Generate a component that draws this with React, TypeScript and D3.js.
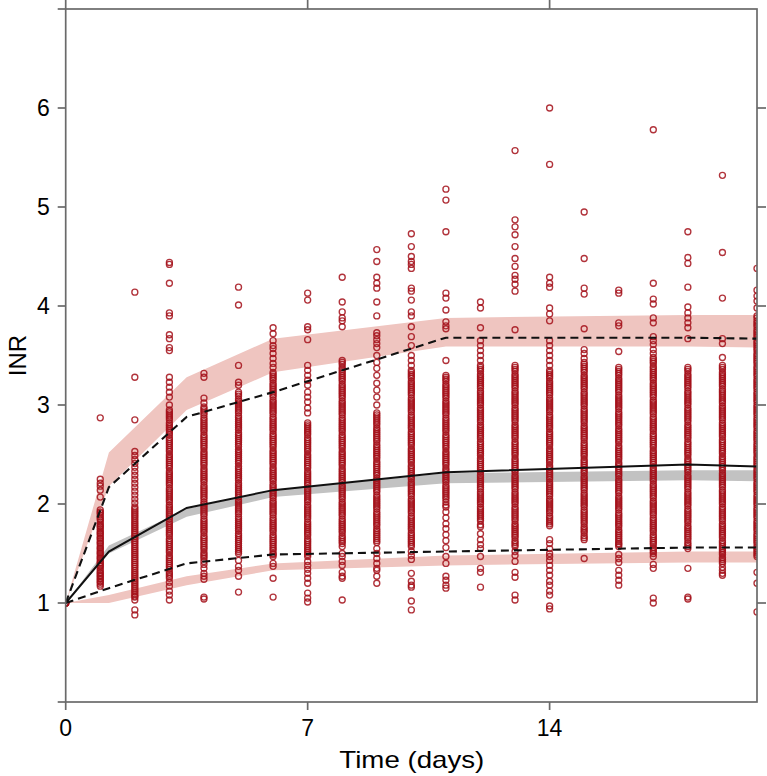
import React from "react";
import * as d3 from "d3";

const W = 767;
const H = 776;
const PLOT = { left: 65.7, right: 757, top: 9, bottom: 702 };

const xTickValues = [0, 7, 14];
const yTickValues = [0, 1, 2, 3, 4, 5, 6, 7];
const yLabelValues = [1, 2, 3, 4, 5, 6];
const rightTickValues = [1, 2, 3, 4, 5, 6];

// Observed INR by day (outer / sparse readings)
const obsDays = [0, 1, 2, 3, 4, 5, 6, 7, 8, 9, 10, 11, 12, 13, 14, 15, 16, 17, 18, 19, 20];
const obsDay00 = [1, 1, 1, 1, 1];
const obsDay01 = [2.87, 2.25, 2.21, 2.18, 2.14, 2.07, 1.94, 1.91, 1.87, 1.84, 1.8, 1.77, 1.73, 1.7, 1.66, 1.63, 1.6, 1.56, 1.53, 1.5, 1.46, 1.43, 1.4, 1.37, 1.33, 1.3, 1.27, 1.24, 1.21, 1.17];
const obsDay02 = [4.14, 3.28, 2.85, 2.53, 2.49, 2.45, 2.41, 2.37, 2.33, 2.29, 2.25, 2.21, 2.17, 2.13, 2.09, 2.05, 2.01, 1.97, 1.93, 1.89, 1.85, 1.81, 1.77, 1.73, 1.69, 1.65, 1.61, 1.57, 1.53, 1.49, 1.45, 1.41, 1.37, 1.33, 1.29, 1.25, 1.21, 1.17, 1.13, 1.09, 1.06, 1.03, 0.93, 0.88];
const obsDay03 = [4.44, 4.42, 4.23, 3.93, 3.9, 3.71, 3.67, 3.58, 3.55, 3.28, 3.23, 3.18, 3.13, 3.08, 3.0, 2.95, 2.91, 2.87, 2.82, 2.78, 2.74, 2.7, 2.65, 2.61, 2.57, 2.53, 2.48, 2.44, 2.4, 2.36, 2.31, 2.27, 2.23, 2.19, 2.14, 2.1, 2.06, 2.02, 1.97, 1.93, 1.89, 1.85, 1.8, 1.76, 1.72, 1.68, 1.63, 1.59, 1.55, 1.51, 1.46, 1.42, 1.38, 1.34, 1.29, 1.25, 1.21, 1.17, 1.12, 1.08, 1.03];
const obsDay04 = [3.32, 3.28, 3.07, 3.02, 2.98, 2.94, 2.9, 2.85, 2.81, 2.77, 2.73, 2.68, 2.64, 2.6, 2.56, 2.51, 2.47, 2.43, 2.39, 2.34, 2.3, 2.26, 2.22, 2.17, 2.13, 2.09, 2.05, 2.0, 1.96, 1.92, 1.88, 1.83, 1.79, 1.75, 1.71, 1.66, 1.62, 1.58, 1.54, 1.49, 1.45, 1.42, 1.39, 1.35, 1.3, 1.27, 1.24, 1.06, 1.04];
const obsDay05 = [4.19, 4.01, 3.4, 3.23, 3.2, 3.13, 3.09, 3.04, 3.0, 2.96, 2.92, 2.87, 2.83, 2.79, 2.75, 2.7, 2.66, 2.62, 2.58, 2.53, 2.49, 2.45, 2.41, 2.36, 2.32, 2.28, 2.24, 2.19, 2.15, 2.11, 2.07, 2.02, 1.98, 1.94, 1.9, 1.85, 1.81, 1.77, 1.73, 1.68, 1.64, 1.6, 1.56, 1.52, 1.5, 1.43, 1.37, 1.33, 1.27, 1.11];
const obsDay06 = [3.78, 3.72, 3.65, 3.6, 3.57, 3.52, 3.47, 3.42, 3.38, 3.33, 3.29, 3.25, 3.2, 3.16, 3.12, 3.08, 3.03, 2.99, 2.95, 2.91, 2.86, 2.82, 2.78, 2.74, 2.69, 2.65, 2.61, 2.57, 2.52, 2.48, 2.44, 2.4, 2.35, 2.31, 2.27, 2.23, 2.18, 2.14, 2.1, 2.06, 2.01, 1.97, 1.93, 1.89, 1.84, 1.8, 1.76, 1.72, 1.67, 1.63, 1.59, 1.55, 1.5, 1.47, 1.4, 1.37, 1.25, 1.06];
const obsDay07 = [4.13, 4.06, 3.79, 3.76, 3.66, 3.4, 3.35, 3.3, 3.25, 3.2, 3.13, 3.08, 3.03, 2.97, 2.92, 2.82, 2.78, 2.74, 2.7, 2.65, 2.61, 2.57, 2.53, 2.48, 2.44, 2.4, 2.36, 2.31, 2.27, 2.23, 2.19, 2.14, 2.1, 2.06, 2.02, 1.97, 1.93, 1.89, 1.85, 1.8, 1.76, 1.72, 1.68, 1.63, 1.59, 1.55, 1.51, 1.47, 1.42, 1.38, 1.34, 1.3, 1.25, 1.2, 1.1, 1.05, 1.01];
const obsDay08 = [4.29, 4.04, 3.94, 3.88, 3.85, 3.79, 3.45, 3.41, 3.36, 3.32, 3.28, 3.24, 3.19, 3.15, 3.11, 3.07, 3.02, 2.98, 2.94, 2.9, 2.85, 2.81, 2.77, 2.73, 2.68, 2.64, 2.6, 2.56, 2.51, 2.47, 2.43, 2.39, 2.34, 2.3, 2.26, 2.22, 2.17, 2.13, 2.09, 2.05, 2.0, 1.96, 1.92, 1.88, 1.83, 1.79, 1.75, 1.71, 1.66, 1.62, 1.57, 1.5, 1.47, 1.42, 1.38, 1.31, 1.27, 1.25, 1.03];
const obsDay09 = [4.57, 4.45, 4.29, 4.23, 4.18, 4.04, 3.9, 3.73, 3.7, 3.66, 3.62, 3.58, 3.5, 3.43, 3.37, 3.3, 3.22, 3.15, 3.08, 3.0, 2.92, 2.88, 2.84, 2.8, 2.75, 2.71, 2.67, 2.63, 2.58, 2.54, 2.5, 2.46, 2.41, 2.37, 2.33, 2.29, 2.24, 2.2, 2.16, 2.12, 2.07, 2.03, 1.99, 1.95, 1.9, 1.86, 1.82, 1.78, 1.73, 1.69, 1.65, 1.61, 1.55, 1.5, 1.45, 1.4, 1.35, 1.33, 1.27, 1.2];
const obsDay10 = [4.73, 4.6, 4.5, 4.45, 4.42, 4.38, 4.18, 4.15, 4.06, 3.94, 3.9, 3.79, 3.69, 3.6, 3.5, 3.45, 3.4, 3.35, 3.31, 3.27, 3.22, 3.18, 3.14, 3.1, 3.05, 3.01, 2.97, 2.93, 2.88, 2.84, 2.8, 2.76, 2.71, 2.67, 2.63, 2.59, 2.54, 2.5, 2.46, 2.42, 2.37, 2.33, 2.29, 2.25, 2.2, 2.16, 2.12, 2.08, 2.03, 1.99, 1.95, 1.91, 1.86, 1.82, 1.78, 1.74, 1.69, 1.65, 1.61, 1.57, 1.52, 1.48, 1.44, 1.3, 1.22, 1.18, 1.16, 1.02, 0.93];
const obsDay11 = [5.18, 5.07, 4.75, 4.13, 4.08, 3.96, 3.84, 3.8, 3.77, 3.45, 3.3, 3.26, 3.21, 3.17, 3.13, 3.09, 3.04, 3.0, 2.96, 2.92, 2.87, 2.83, 2.79, 2.75, 2.7, 2.66, 2.62, 2.58, 2.53, 2.49, 2.45, 2.41, 2.36, 2.32, 2.28, 2.24, 2.19, 2.15, 2.11, 2.07, 2.02, 1.97, 1.92, 1.86, 1.8, 1.75, 1.69, 1.63, 1.56, 1.47, 1.4, 1.27, 1.23, 1.18, 1.15];
const obsDay12 = [4.04, 3.98, 3.78, 3.65, 3.6, 3.55, 3.5, 3.45, 3.4, 3.36, 3.31, 3.27, 3.23, 3.19, 3.14, 3.1, 3.06, 3.02, 2.97, 2.93, 2.89, 2.85, 2.8, 2.76, 2.72, 2.68, 2.63, 2.59, 2.55, 2.51, 2.46, 2.42, 2.38, 2.34, 2.29, 2.25, 2.21, 2.17, 2.12, 2.08, 2.04, 2.0, 1.95, 1.91, 1.87, 1.83, 1.77, 1.7, 1.64, 1.59, 1.55, 1.47, 1.35, 1.31, 1.16];
const obsDay13 = [5.57, 4.87, 4.8, 4.72, 4.6, 4.48, 4.4, 4.31, 4.27, 4.22, 4.15, 3.76, 3.4, 3.36, 3.31, 3.27, 3.23, 3.19, 3.14, 3.1, 3.06, 3.02, 2.97, 2.93, 2.89, 2.85, 2.8, 2.76, 2.72, 2.68, 2.63, 2.59, 2.55, 2.51, 2.46, 2.42, 2.38, 2.34, 2.29, 2.25, 2.21, 2.17, 2.12, 2.08, 2.04, 2.0, 1.95, 1.91, 1.87, 1.83, 1.78, 1.74, 1.7, 1.66, 1.61, 1.57, 1.52, 1.48, 1.42, 1.31, 1.26, 1.08, 1.03];
const obsDay14 = [6.0, 5.43, 4.29, 4.23, 4.19, 3.98, 3.92, 3.85, 3.65, 3.6, 3.55, 3.5, 3.45, 3.4, 3.35, 3.31, 3.27, 3.22, 3.18, 3.14, 3.1, 3.05, 3.01, 2.97, 2.93, 2.88, 2.84, 2.8, 2.76, 2.71, 2.67, 2.63, 2.59, 2.54, 2.5, 2.46, 2.42, 2.37, 2.33, 2.29, 2.25, 2.2, 2.16, 2.12, 2.08, 2.03, 1.99, 1.95, 1.91, 1.86, 1.82, 1.78, 1.64, 1.6, 1.55, 1.5, 1.47, 1.43, 1.38, 1.33, 1.28, 1.22, 1.18, 1.12, 1.08, 0.97, 0.94];
const obsDay15 = [4.95, 4.48, 4.18, 4.12, 3.77, 3.56, 3.52, 3.47, 3.43, 3.39, 3.35, 3.3, 3.26, 3.22, 3.18, 3.13, 3.09, 3.05, 3.01, 2.96, 2.92, 2.88, 2.84, 2.79, 2.75, 2.71, 2.67, 2.62, 2.58, 2.54, 2.5, 2.45, 2.41, 2.37, 2.33, 2.28, 2.24, 2.2, 2.16, 2.11, 2.07, 2.03, 1.99, 1.94, 1.9, 1.86, 1.82, 1.77, 1.73, 1.68, 1.64, 1.45];
const obsDay16 = [4.16, 4.13, 3.83, 3.8, 3.54, 3.38, 3.34, 3.3, 3.25, 3.21, 3.17, 3.13, 3.08, 3.04, 3.0, 2.96, 2.91, 2.87, 2.83, 2.79, 2.74, 2.7, 2.66, 2.62, 2.57, 2.53, 2.49, 2.45, 2.4, 2.36, 2.32, 2.28, 2.23, 2.19, 2.15, 2.11, 2.06, 2.02, 1.98, 1.94, 1.89, 1.85, 1.81, 1.77, 1.72, 1.68, 1.64, 1.6, 1.57, 1.49, 1.45, 1.41, 1.33, 1.28, 1.23, 1.18];
const obsDay17 = [5.78, 4.23, 4.07, 4.02, 3.88, 3.83, 3.69, 3.65, 3.61, 3.56, 3.52, 3.48, 3.44, 3.39, 3.35, 3.31, 3.27, 3.22, 3.18, 3.14, 3.1, 3.05, 3.01, 2.97, 2.93, 2.88, 2.84, 2.8, 2.76, 2.71, 2.67, 2.63, 2.59, 2.54, 2.5, 2.46, 2.42, 2.37, 2.33, 2.29, 2.25, 2.2, 2.16, 2.12, 2.08, 2.03, 1.99, 1.95, 1.91, 1.86, 1.82, 1.78, 1.74, 1.69, 1.65, 1.61, 1.56, 1.52, 1.47, 1.39, 1.35, 1.05, 1.0];
const obsDay18 = [4.75, 4.49, 4.43, 4.19, 3.99, 3.93, 3.88, 3.83, 3.78, 3.67, 3.38, 3.34, 3.29, 3.25, 3.21, 3.17, 3.12, 3.08, 3.04, 3.0, 2.95, 2.91, 2.87, 2.83, 2.78, 2.74, 2.7, 2.66, 2.61, 2.57, 2.53, 2.49, 2.44, 2.4, 2.36, 2.32, 2.27, 2.23, 2.19, 2.15, 2.1, 2.06, 2.02, 1.98, 1.93, 1.89, 1.85, 1.81, 1.76, 1.72, 1.68, 1.64, 1.59, 1.55, 1.35, 1.06, 1.04];
const obsDay19 = [5.32, 4.54, 4.08, 3.67, 3.62, 3.48, 3.4, 3.36, 3.31, 3.27, 3.23, 3.19, 3.14, 3.1, 3.06, 3.02, 2.97, 2.93, 2.89, 2.85, 2.8, 2.76, 2.72, 2.68, 2.63, 2.59, 2.55, 2.51, 2.46, 2.42, 2.38, 2.34, 2.29, 2.25, 2.21, 2.17, 2.12, 2.08, 2.04, 2.0, 1.95, 1.91, 1.87, 1.83, 1.78, 1.74, 1.7, 1.66, 1.61, 1.57, 1.53, 1.49, 1.44, 1.4, 1.36, 1.33, 1.3, 1.28];
const obsDay20 = [4.38, 4.16, 4.1, 4.05, 3.98, 3.9, 3.85, 3.81, 3.76, 3.72, 3.68, 3.63, 3.59, 3.55, 3.5, 3.46, 3.42, 3.37, 3.33, 3.29, 3.24, 3.2, 3.16, 3.11, 3.07, 3.03, 2.98, 2.94, 2.9, 2.85, 2.81, 2.77, 2.72, 2.68, 2.64, 2.59, 2.55, 2.51, 2.46, 2.42, 2.38, 2.33, 2.29, 2.25, 2.2, 2.16, 2.12, 2.07, 2.03, 1.99, 1.94, 1.9, 1.86, 1.81, 1.77, 1.73, 1.68, 1.64, 1.6, 1.55, 1.51, 1.47, 1.31, 1.2, 0.91];

// Additional readings inside the dense (solid-looking) part of each column
const denseDay01 = [1.92, 1.89, 1.85, 1.82, 1.78, 1.75, 1.71, 1.68, 1.65, 1.61, 1.58, 1.55, 1.51, 1.48, 1.45, 1.41, 1.38, 1.35, 1.31, 1.28, 1.25, 1.22, 1.19];
const denseDay02 = [1.95, 1.91, 1.87, 1.83, 1.79, 1.75, 1.71, 1.67, 1.63, 1.59, 1.55, 1.51, 1.47, 1.43, 1.39, 1.35, 1.31, 1.27, 1.23, 1.19, 1.15, 1.11, 1.07];
const denseDay03 = [2.93, 2.89, 2.85, 2.8, 2.76, 2.72, 2.67, 2.63, 2.59, 2.55, 2.5, 2.46, 2.42, 2.38, 2.33, 2.29, 2.25, 2.21, 2.16, 2.12, 2.08, 2.04, 1.99, 1.95, 1.91, 1.87, 1.82, 1.78, 1.74, 1.7, 1.65, 1.61, 1.57, 1.53, 1.48, 1.44, 1.4, 1.36, 1.31, 1.27];
const denseDay04 = [2.96, 2.92, 2.87, 2.83, 2.79, 2.75, 2.7, 2.66, 2.62, 2.58, 2.53, 2.49, 2.45, 2.41, 2.36, 2.32, 2.28, 2.24, 2.19, 2.15, 2.11, 2.07, 2.02, 1.98, 1.94, 1.9, 1.85, 1.81, 1.77, 1.73, 1.68, 1.64, 1.6, 1.56, 1.51, 1.47];
const denseDay05 = [3.11, 3.06, 3.02, 2.98, 2.94, 2.89, 2.85, 2.81, 2.77, 2.72, 2.68, 2.64, 2.6, 2.55, 2.51, 2.47, 2.43, 2.38, 2.34, 2.3, 2.26, 2.21, 2.17, 2.13, 2.09, 2.04, 2.0, 1.96, 1.92, 1.87, 1.83, 1.79, 1.75, 1.7, 1.66, 1.62, 1.58, 1.54];
const denseDay06 = [3.31, 3.27, 3.22, 3.18, 3.14, 3.1, 3.05, 3.01, 2.97, 2.93, 2.88, 2.84, 2.8, 2.76, 2.71, 2.67, 2.63, 2.59, 2.54, 2.5, 2.46, 2.42, 2.37, 2.33, 2.29, 2.25, 2.2, 2.16, 2.12, 2.08, 2.03, 1.99, 1.95, 1.91, 1.86, 1.82, 1.78, 1.74, 1.69, 1.65, 1.61, 1.57, 1.53, 1.49];
const denseDay07 = [2.8, 2.76, 2.72, 2.67, 2.63, 2.59, 2.55, 2.5, 2.46, 2.42, 2.38, 2.33, 2.29, 2.25, 2.21, 2.16, 2.12, 2.08, 2.04, 1.99, 1.95, 1.91, 1.87, 1.82, 1.78, 1.74, 1.7, 1.65, 1.61, 1.57, 1.53, 1.49];
const denseDay08 = [3.43, 3.38, 3.34, 3.3, 3.26, 3.21, 3.17, 3.13, 3.09, 3.04, 3.0, 2.96, 2.92, 2.87, 2.83, 2.79, 2.75, 2.7, 2.66, 2.62, 2.58, 2.53, 2.49, 2.45, 2.41, 2.36, 2.32, 2.28, 2.24, 2.19, 2.15, 2.11, 2.07, 2.02, 1.98, 1.94, 1.9, 1.85, 1.81, 1.77, 1.73, 1.68, 1.64, 1.6];
const denseDay09 = [2.9, 2.86, 2.82, 2.77, 2.73, 2.69, 2.65, 2.6, 2.56, 2.52, 2.48, 2.43, 2.39, 2.35, 2.31, 2.26, 2.22, 2.18, 2.14, 2.09, 2.05, 2.01, 1.97, 1.92, 1.88, 1.84, 1.8, 1.75, 1.71, 1.67, 1.63];
const denseDay10 = [3.33, 3.29, 3.24, 3.2, 3.16, 3.12, 3.07, 3.03, 2.99, 2.95, 2.9, 2.86, 2.82, 2.78, 2.73, 2.69, 2.65, 2.61, 2.56, 2.52, 2.48, 2.44, 2.39, 2.35, 2.31, 2.27, 2.22, 2.18, 2.14, 2.1, 2.05, 2.01, 1.97, 1.93, 1.88, 1.84, 1.8, 1.76, 1.71, 1.67, 1.63, 1.59];
const denseDay11 = [3.28, 3.24, 3.19, 3.15, 3.11, 3.07, 3.02, 2.98, 2.94, 2.9, 2.85, 2.81, 2.77, 2.73, 2.68, 2.64, 2.6, 2.56, 2.51, 2.47, 2.43, 2.39, 2.34, 2.3, 2.26, 2.22, 2.17, 2.13, 2.09, 2.05, 1.99];
const denseDay12 = [3.38, 3.34, 3.29, 3.25, 3.21, 3.17, 3.12, 3.08, 3.04, 3.0, 2.95, 2.91, 2.87, 2.83, 2.78, 2.74, 2.7, 2.66, 2.61, 2.57, 2.53, 2.49, 2.44, 2.4, 2.36, 2.32, 2.27, 2.23, 2.19, 2.15, 2.1, 2.06, 2.02, 1.97, 1.93, 1.89, 1.85, 1.79];
const denseDay13 = [3.38, 3.34, 3.29, 3.25, 3.21, 3.17, 3.12, 3.08, 3.04, 3.0, 2.95, 2.91, 2.87, 2.83, 2.78, 2.74, 2.7, 2.66, 2.61, 2.57, 2.53, 2.49, 2.44, 2.4, 2.36, 2.32, 2.27, 2.23, 2.19, 2.15, 2.1, 2.06, 2.02, 1.97, 1.93, 1.89, 1.85, 1.8, 1.76, 1.72, 1.68, 1.63, 1.59];
const denseDay14 = [3.33, 3.29, 3.24, 3.2, 3.16, 3.12, 3.07, 3.03, 2.99, 2.95, 2.9, 2.86, 2.82, 2.78, 2.73, 2.69, 2.65, 2.61, 2.56, 2.52, 2.48, 2.44, 2.39, 2.35, 2.31, 2.27, 2.22, 2.18, 2.14, 2.1, 2.05, 2.01, 1.97, 1.93, 1.88, 1.84, 1.8];
const denseDay15 = [3.41, 3.37, 3.33, 3.28, 3.24, 3.2, 3.16, 3.11, 3.07, 3.03, 2.99, 2.94, 2.9, 2.86, 2.82, 2.77, 2.73, 2.69, 2.65, 2.6, 2.56, 2.52, 2.48, 2.43, 2.39, 2.35, 2.31, 2.26, 2.22, 2.18, 2.14, 2.09, 2.05, 2.01, 1.97, 1.92, 1.88, 1.84, 1.8, 1.75, 1.71, 1.66];
const denseDay16 = [3.36, 3.32, 3.27, 3.23, 3.19, 3.15, 3.1, 3.06, 3.02, 2.98, 2.93, 2.89, 2.85, 2.81, 2.76, 2.72, 2.68, 2.64, 2.59, 2.55, 2.51, 2.47, 2.42, 2.38, 2.34, 2.3, 2.25, 2.21, 2.17, 2.13, 2.08, 2.04, 2.0, 1.96, 1.91, 1.87, 1.83, 1.79, 1.74, 1.7, 1.66, 1.62, 1.59];
const denseDay17 = [3.46, 3.42, 3.37, 3.33, 3.29, 3.25, 3.2, 3.16, 3.12, 3.08, 3.03, 2.99, 2.95, 2.91, 2.86, 2.82, 2.78, 2.74, 2.69, 2.65, 2.61, 2.57, 2.52, 2.48, 2.44, 2.4, 2.35, 2.31, 2.27, 2.23, 2.18, 2.14, 2.1, 2.06, 2.01, 1.97, 1.93, 1.89, 1.84, 1.8, 1.76, 1.72, 1.67, 1.63, 1.59, 1.54, 1.5];
const denseDay18 = [3.36, 3.31, 3.27, 3.23, 3.19, 3.14, 3.1, 3.06, 3.02, 2.97, 2.93, 2.89, 2.85, 2.8, 2.76, 2.72, 2.68, 2.63, 2.59, 2.55, 2.51, 2.46, 2.42, 2.38, 2.34, 2.29, 2.25, 2.21, 2.17, 2.12, 2.08, 2.04, 2.0, 1.95, 1.91, 1.87, 1.83, 1.78, 1.74, 1.7, 1.66, 1.61, 1.57];
const denseDay19 = [3.38, 3.33, 3.29, 3.25, 3.21, 3.16, 3.12, 3.08, 3.04, 2.99, 2.95, 2.91, 2.87, 2.82, 2.78, 2.74, 2.7, 2.65, 2.61, 2.57, 2.53, 2.48, 2.44, 2.4, 2.36, 2.31, 2.27, 2.23, 2.19, 2.14, 2.1, 2.06, 2.02, 1.97, 1.93, 1.89, 1.85, 1.8, 1.76, 1.72, 1.68, 1.63, 1.59, 1.55, 1.51, 1.46, 1.42];
const denseDay20 = [3.88, 3.83, 3.79, 3.74, 3.7, 3.65, 3.61, 3.57, 3.52, 3.48, 3.44, 3.39, 3.35, 3.31, 3.26, 3.22, 3.18, 3.13, 3.09, 3.05, 3.0, 2.96, 2.92, 2.87, 2.83, 2.79, 2.74, 2.7, 2.66, 2.61, 2.57, 2.53, 2.48, 2.44, 2.4, 2.35, 2.31, 2.27, 2.22, 2.18, 2.14, 2.09, 2.05, 2.01, 1.96, 1.92, 1.88, 1.83, 1.79, 1.75, 1.7, 1.66, 1.62, 1.57, 1.53, 1.49];

const observations = [
  obsDay00,
  obsDay01.concat(denseDay01),
  obsDay02.concat(denseDay02),
  obsDay03.concat(denseDay03),
  obsDay04.concat(denseDay04),
  obsDay05.concat(denseDay05),
  obsDay06.concat(denseDay06),
  obsDay07.concat(denseDay07),
  obsDay08.concat(denseDay08),
  obsDay09.concat(denseDay09),
  obsDay10.concat(denseDay10),
  obsDay11.concat(denseDay11),
  obsDay12.concat(denseDay12),
  obsDay13.concat(denseDay13),
  obsDay14.concat(denseDay14),
  obsDay15.concat(denseDay15),
  obsDay16.concat(denseDay16),
  obsDay17.concat(denseDay17),
  obsDay18.concat(denseDay18),
  obsDay19.concat(denseDay19),
  obsDay20.concat(denseDay20),
];

// Percentile curves at bin times
const binTimes = [0, 1.25, 3.5, 6, 11, 18, 20];
const obsP95 = [1.0, 2.17, 2.88, 3.13, 3.68, 3.68, 3.67];
const obsP50 = [1.0, 1.52, 1.96, 2.14, 2.32, 2.4, 2.38];
const obsP05 = [1.0, 1.15, 1.4, 1.49, 1.52, 1.56, 1.56];
// Simulated confidence intervals
const simP95Lo = [1.0, 2.18, 2.95, 3.33, 3.59, 3.59, 3.58];
const simP95Hi = [1.0, 2.52, 3.28, 3.67, 3.88, 3.91, 3.91];
const simP50Lo = [1.0, 1.5, 1.87, 2.07, 2.21, 2.24, 2.23];
const simP50Hi = [1.0, 1.58, 1.95, 2.14, 2.31, 2.34, 2.34];
const simP05Lo = [1.0, 1.0, 1.18, 1.33, 1.38, 1.41, 1.41];
const simP05Hi = [1.0, 1.08, 1.27, 1.4, 1.48, 1.52, 1.52];

export default function App() {
  const x = d3.scaleLinear().domain([0, 20]).range([PLOT.left, PLOT.right]);
  const y = d3.scaleLinear().domain([0, 7]).range([PLOT.bottom, PLOT.top]);

  const band = (lo: number[], hi: number[]) =>
    d3
      .area<number>()
      .x((_, i) => x(binTimes[i]))
      .y0((_, i) => y(lo[i]))
      .y1((_, i) => y(hi[i]))(binTimes) || "";
  const line = (vals: number[]) =>
    d3
      .line<number>()
      .x((_, i) => x(binTimes[i]))
      .y((_, i) => y(vals[i]))(binTimes) || "";

  const axisColor = "#6a6a6a";
  const font = "'Liberation Sans', Arial, Helvetica, sans-serif";

  return (
    <div style={{ position: "absolute", left: 0, top: 0 }}>
      <svg width={W} height={H} style={{ display: "block", background: "#fff" }}>
        <defs>
          <clipPath id="plotClip">
            <rect x={PLOT.left} y={PLOT.top} width={PLOT.right - PLOT.left} height={PLOT.bottom - PLOT.top} />
          </clipPath>
        </defs>
        <g clipPath="url(#plotClip)">
          <path d={band(simP95Lo, simP95Hi)} fill="#efc5c0" />
          <path d={band(simP05Lo, simP05Hi)} fill="#efc5c0" />
          <path d={band(simP50Lo, simP50Hi)} fill="#c2c2c2" />
          <g fill="none" stroke="#a30f19" strokeWidth={1.35} strokeOpacity={0.85}>
            {observations.map((vals, d) =>
              vals.map((v, j) => <circle key={`${d}-${j}`} cx={x(obsDays[d])} cy={y(v)} r={3} />)
            )}
          </g>
          <path d={line(obsP50)} fill="none" stroke="#111" strokeWidth={2} />
          <path d={line(obsP95)} fill="none" stroke="#111" strokeWidth={2.1} strokeDasharray="8,5" />
          <path d={line(obsP05)} fill="none" stroke="#111" strokeWidth={2.1} strokeDasharray="8,5" />
        </g>
        {/* frame */}
        <g stroke={axisColor} strokeWidth={1.7} fill="none">
          <rect x={PLOT.left} y={PLOT.top} width={PLOT.right - PLOT.left} height={PLOT.bottom - PLOT.top} />
          {yTickValues.map((t) => (
            <line key={`yl${t}`} x1={PLOT.left - 8} x2={PLOT.left} y1={y(t)} y2={y(t)} />
          ))}
          {rightTickValues.map((t) => (
            <line key={`yr${t}`} x1={PLOT.right} x2={PLOT.right + 9} y1={y(t)} y2={y(t)} />
          ))}
          {xTickValues.map((t) => (
            <line key={`xb${t}`} x1={x(t)} x2={x(t)} y1={PLOT.bottom} y2={PLOT.bottom + 8} />
          ))}
          {xTickValues.map((t) => (
            <line key={`xt${t}`} x1={x(t)} x2={x(t)} y1={PLOT.top} y2={PLOT.top - 9} />
          ))}
        </g>
        <g fontFamily={font} fontSize={23} fill="#000">
          {yLabelValues.map((t) => (
            <text key={`ylab${t}`} x={PLOT.left - 16} y={y(t)} dy="0.36em" textAnchor="end">
              {t}
            </text>
          ))}
          {xTickValues.map((t) => (
            <text key={`xlab${t}`} x={x(t)} y={736} textAnchor="middle">
              {t}
            </text>
          ))}
          <text
            x={(PLOT.left + PLOT.right) / 2 - 72}
            y={768}
            fontSize={24}
            textLength={145}
            lengthAdjust="spacingAndGlyphs"
          >
            Time (days)
          </text>
          <text
            transform={`translate(26, ${(PLOT.top + PLOT.bottom) / 2}) rotate(-90)`}
            textAnchor="middle"
            fontSize={24}
          >
            INR
          </text>
        </g>
      </svg>
    </div>
  );
}
